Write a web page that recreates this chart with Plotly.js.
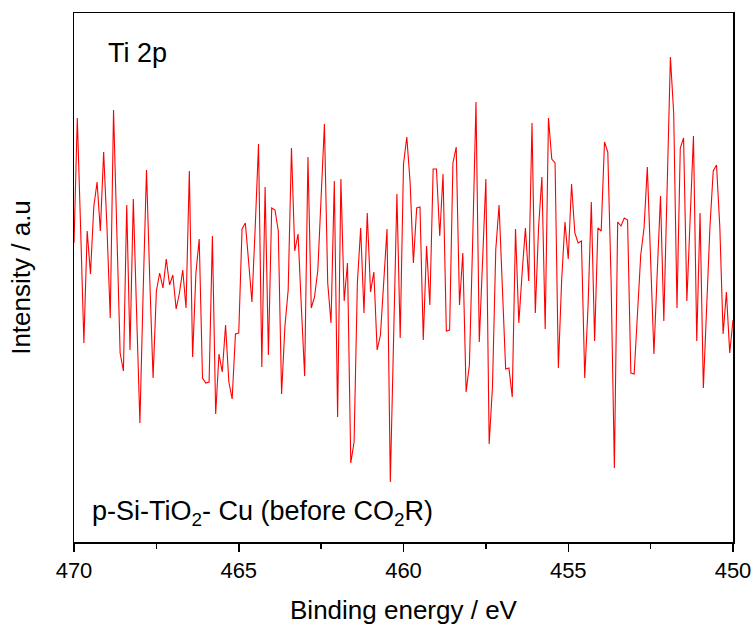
<!DOCTYPE html>
<html>
<head>
<meta charset="utf-8">
<script src="https://cdn.plot.ly/plotly-3.0.1.min.js"></script>
<style>html,body{margin:0;padding:0;background:#fff;}#chart{width:754px;height:626px;}</style>
</head>
<body>
<div id="chart"></div>
<script>
// Binding energy grid: 470.0 -> 450.0 eV in 0.1 eV steps
const energyStart = 470.0;
const energyStep = -0.1;
// Intensity (a.u.), one value per 0.1 eV
const intensity = [
 299,424,315,199,311,268,335,360,311,390,315,224,432,302,189,171,337,192,343,229,
 119,252,372,262,164,251,269,254,283,257,267,233,249,272,234,371,185,269,303,164,
 159,160,306,128,188,170,217,160,143,208,209,313,319,280,240,315,398,175,355,187,
 334,332,311,148,215,252,394,291,308,235,166,385,234,245,272,345,418,259,219,361,
 125,363,241,279,79,100,259,314,229,329,250,270,192,207,255,313,60,195,348,204,
 378,405,360,279,334,335,202,296,237,373,373,306,368,211,212,379,395,237,289,150,
 177,302,440,200,289,363,98,155,292,337,255,173,174,145,313,219,269,314,261,419,
 229,315,365,213,424,383,379,174,262,320,283,358,309,299,301,164,235,340,201,314,
 311,400,390,262,74,320,316,324,322,169,168,229,287,314,375,282,188,269,346,221,
 349,485,429,234,394,404,241,322,406,201,329,154,235,315,371,377,315,208,250,189,
 222
];
const energy = intensity.map((_, i) => +(energyStart + i * energyStep).toFixed(1));

const xTicks = [470, 465, 460, 455, 450];
const xTickLabels = ['470', '465', '460', '455', '450'];
const labelTop = 'Ti 2p';
const labelBottom = 'p-Si-TiO<sub>2</sub>- Cu (before CO<sub>2</sub>R)';

const trace = {
  x: energy, y: intensity, type: 'scatter', mode: 'lines',
  line: {color: '#ff0000', width: 1.1}, hoverinfo: 'skip', showlegend: false
};

const font = 'Arial, "Liberation Sans", sans-serif';
const layout = {
  width: 754, height: 626,
  margin: {l: 74, r: 21, t: 13, b: 84},
  paper_bgcolor: '#ffffff', plot_bgcolor: '#ffffff',
  font: {family: font, color: '#000'},
  xaxis: {
    range: [470, 450], tickmode: 'array', tickvals: xTicks, ticktext: xTickLabels,
    ticks: 'outside', ticklen: 8, tickwidth: 1.5, tickcolor: '#000',
    minor: {dtick: 2.5, ticks: 'outside', ticklen: 5, tickwidth: 1.5, tickcolor: '#000', showgrid: false},
    showline: true, mirror: true, linecolor: '#000', linewidth: 1.5,
    showgrid: false, zeroline: false,
    tickfont: {size: 22, family: font},
    title: {text: 'Binding energy / eV', font: {size: 26, family: font}, standoff: 19}
  },
  yaxis: {
    range: [0, 529], showticklabels: false, ticks: '',
    showline: true, mirror: true, linecolor: '#000', linewidth: 1.5,
    showgrid: false, zeroline: false,
    title: {text: 'Intensity / a.u', font: {size: 26, family: font}, standoff: 34}
  },
  annotations: [
    {text: labelTop, xref: 'paper', yref: 'paper', x: 0.048, y: 0.924, xanchor: 'left', yanchor: 'middle', showarrow: false, font: {size: 27, family: font}},
    {text: labelBottom, xref: 'paper', yref: 'paper', x: 0.024, y: 0.055, xanchor: 'left', yanchor: 'middle', showarrow: false, font: {size: 27, family: font}}
  ]
};

Plotly.newPlot('chart', [trace], layout, {displayModeBar: false, staticPlot: true});
</script>
</body>
</html>
